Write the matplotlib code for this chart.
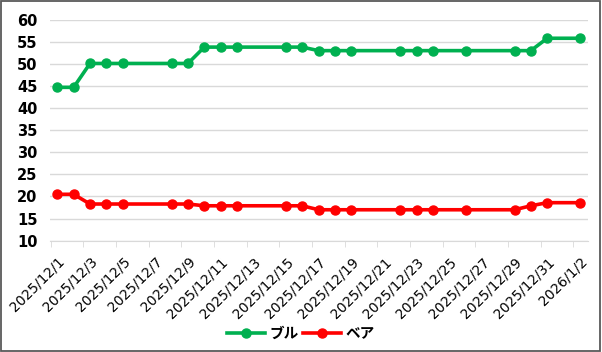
import matplotlib
matplotlib.use("Agg")
import matplotlib.pyplot as plt
import pandas as pd
from matplotlib.patches import Rectangle

dates = ["2025-12-01", "2025-12-02", "2025-12-03", "2025-12-04", "2025-12-05",
         "2025-12-08", "2025-12-09", "2025-12-10", "2025-12-11", "2025-12-12",
         "2025-12-15", "2025-12-16", "2025-12-17", "2025-12-18", "2025-12-19",
         "2025-12-22", "2025-12-23", "2025-12-24", "2025-12-26", "2025-12-29",
         "2025-12-30", "2025-12-31", "2026-01-02"]
bull = [44.7, 44.7, 50.1, 50.1, 50.1, 50.1, 50.1, 53.8, 53.8, 53.8,
        53.8, 53.8, 53.0, 53.0, 53.0, 53.0, 53.0, 53.0, 53.0, 53.0,
        53.0, 55.8, 55.8]
bear = [20.5, 20.5, 18.3, 18.3, 18.3, 18.3, 18.3, 17.9, 17.9, 17.9,
        17.9, 17.9, 17.0, 17.0, 17.0, 17.0, 17.0, 17.0, 17.0, 17.0,
        17.9, 18.6, 18.6]
tick_labels = ["2025/12/1", "2025/12/3", "2025/12/5", "2025/12/7", "2025/12/9",
               "2025/12/11", "2025/12/13", "2025/12/15", "2025/12/17", "2025/12/19",
               "2025/12/21", "2025/12/23", "2025/12/25", "2025/12/27", "2025/12/29",
               "2025/12/31", "2026/1/2"]
series_names = ["ブル", "ベア"]

start = pd.Timestamp("2025-12-01")
x = [(pd.Timestamp(d) - start).days for d in dates]

plt.rcParams["font.family"] = ["DejaVu Sans", "Noto Sans CJK JP"]

fig = plt.figure(figsize=(6.02, 3.52), dpi=100)
ax = fig.add_axes([50 / 602, 1 - 240.7 / 352, 538 / 602, 221 / 352])

ax.plot(x, bull, color="#00B050", lw=2.6, marker="o", ms=6.5, label=series_names[0])
ax.plot(x, bear, color="#FF0000", lw=2.6, marker="o", ms=6.5, label=series_names[1])

ax.set_ylim(10, 60)
ax.set_yticks(range(10, 61, 5))
ax.set_xlim(-0.45, 32.5)
ax.grid(axis="y", color="#d9d9d9", lw=1)
ax.set_axisbelow(True)
for s in ["top", "right", "left"]:
    ax.spines[s].set_visible(False)
ax.spines["bottom"].set_color("#d9d9d9")
ax.tick_params(axis="y", length=0, pad=9, labelsize=10.5)
for t in ax.get_yticklabels():
    t.set_fontweight("bold")

tick_pos = list(range(0, 33, 2))
ax.set_xticks(tick_pos)
ax.set_xticklabels(tick_labels, rotation=45, ha="right", rotation_mode="anchor",
                   fontsize=10)
ax.tick_params(axis="x", length=0, pad=10)
ax.set_xticks([p - 0.4 for p in tick_pos], minor=True)
ax.tick_params(axis="x", which="minor", length=4, color="#d9d9d9", direction="out")

leg = fig.legend(loc="center", bbox_to_anchor=(0.5, 1 - 333 / 352), ncol=2,
                 frameon=False, handlelength=2.6, columnspacing=0.3, handletextpad=0.3,
                 prop={"family": "Noto Sans CJK JP", "weight": "bold", "size": 10.5})

fig.patches.append(Rectangle((0.0015, 0.0025), 0.996, 0.994, transform=fig.transFigure,
                             fill=False, edgecolor="#595959", lw=1.3))

fig.savefig("out.png", dpi=100)
